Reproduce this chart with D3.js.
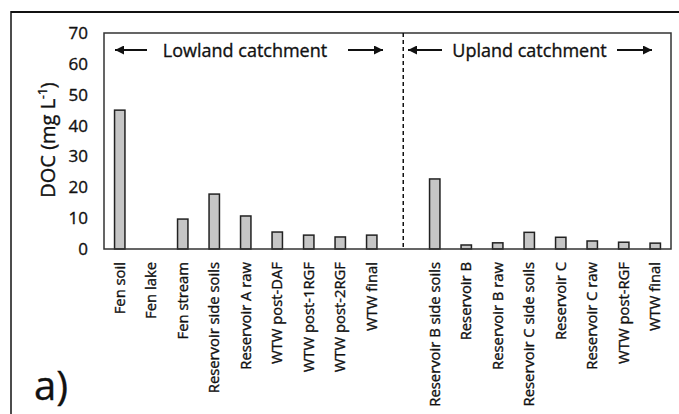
<!DOCTYPE html>
<html><head><meta charset="utf-8">
<script src="https://cdn.jsdelivr.net/npm/d3@7"></script>
<style>
html,body{margin:0;padding:0;background:#fff;}
svg{display:block;font-family:"Open Sans",sans-serif;}
text{stroke:#111;stroke-width:0.35px;}
</style></head>
<body>
<svg id="chart" width="679" height="414"></svg>
<script>
// Data
const lowlandSites = ["Fen soil","Fen lake","Fen stream","Reservoir side soils","Reservoir A raw","WTW post-DAF","WTW post-1RGF","WTW post-2RGF","WTW final"];
const lowlandDOC  = [45.0, null, 9.7, 17.8, 10.7, 5.5, 4.5, 3.9, 4.5];
const uplandSites = ["Reservoir B side soils","Reservoir B","Reservoir B raw","Reservoir C side soils","Reservoir C","Reservoir C raw","WTW post-RGF","WTW final"];
const uplandDOC   = [22.7, 1.3, 2.0, 5.4, 3.8, 2.6, 2.2, 1.9];
const yTicks = [0,10,20,30,40,50,60,70];
const regionLabels = ["Lowland catchment","Upland catchment"];
const panelLabel = "a)";

const rows = [];
lowlandSites.forEach((s,i)=>rows.push({key:"L"+i,label:s,value:lowlandDOC[i]}));
rows.push({key:"gap",label:"",value:null});
uplandSites.forEach((s,i)=>rows.push({key:"U"+i,label:s,value:uplandDOC[i]}));
const labelOf = new Map(rows.map(r=>[r.key,r.label]));

const svg = d3.select("#chart");
const m = {left:104, top:33, right:671, bottom:249};

// outer frame (partially visible)
svg.append("line").attr("x1",11).attr("x2",679).attr("y1",12).attr("y2",12).attr("stroke","#111").attr("stroke-width",2);
svg.append("line").attr("x1",11).attr("x2",11).attr("y1",11).attr("y2",414).attr("stroke","#111").attr("stroke-width",1.5);

const x = d3.scaleBand().domain(rows.map(r=>r.key)).range([m.left,m.right]).paddingInner(0.67).paddingOuter(0.335);
const y = d3.scaleLinear().domain([0,70]).range([m.bottom,m.top]);

// y axis labels
const yAx = svg.append("g").attr("transform",`translate(${m.left},0)`)
  .call(d3.axisLeft(y).tickValues(yTicks).tickSize(0).tickPadding(16));
yAx.select(".domain").remove();
yAx.selectAll("text").attr("font-size",17).attr("fill","#111").attr("font-family","'Open Sans',sans-serif");

// x axis labels
const xAx = svg.append("g").attr("transform",`translate(0,${m.bottom})`)
  .call(d3.axisBottom(x).tickSize(0).tickFormat(k=>labelOf.get(k)));
xAx.select(".domain").remove();
xAx.selectAll("text").attr("font-size",14.8).attr("fill","#111").attr("font-family","'Open Sans',sans-serif")
  .attr("text-anchor","end").attr("transform","rotate(-90)").attr("x",-13).attr("y",0).attr("dy","0.35em");

// bars
svg.append("g").selectAll("rect").data(rows.filter(r=>r.value!=null)).join("rect")
  .attr("x",d=>x(d.key)).attr("width",x.bandwidth())
  .attr("y",d=>y(d.value)).attr("height",d=>y(0)-y(d.value))
  .attr("fill","#c6c6c6").attr("stroke","#222").attr("stroke-width",1.5);

// plot box
svg.append("rect").attr("x",m.left).attr("y",m.top).attr("width",m.right-m.left).attr("height",m.bottom-m.top)
  .attr("fill","none").attr("stroke","#333").attr("stroke-width",1.5);

// dashed separator
const gx = x("gap")+x.bandwidth()/2;
svg.append("line").attr("x1",gx).attr("x2",gx).attr("y1",m.top).attr("y2",m.bottom)
  .attr("stroke","#111").attr("stroke-width",1.5).attr("stroke-dasharray","4,3");

// arrows
const defs = svg.append("defs");
defs.append("marker").attr("id","ah").attr("viewBox","0 0 10 10").attr("refX",10).attr("refY",5)
  .attr("markerWidth",12).attr("markerHeight",9).attr("markerUnits","userSpaceOnUse").attr("orient","auto")
  .append("path").attr("d","M0,0L10,5L0,10z").attr("fill","#111");
const ay = 50;
function arrow(x1,x2){svg.append("line").attr("x1",x1).attr("x2",x2).attr("y1",ay).attr("y2",ay)
  .attr("stroke","#111").attr("stroke-width",2).attr("marker-end","url(#ah)");}
arrow(147,115); arrow(348,383); arrow(442,408); arrow(617,652);
svg.append("text").attr("x",245).attr("y",57).attr("text-anchor","middle").attr("font-size",18).attr("fill","#111").text(regionLabels[0]);
svg.append("text").attr("x",529.5).attr("y",57).attr("text-anchor","middle").attr("font-size",18).attr("fill","#111").text(regionLabels[1]);

// y title
const t = svg.append("text").attr("transform","translate(55,140) rotate(-90)").attr("text-anchor","middle")
  .attr("font-size",20).attr("fill","#111");
t.append("tspan").text("DOC (mg L");
t.append("tspan").attr("font-size",12).attr("dy",-8).text("-1");
t.append("tspan").attr("dy",8).text(")");

// panel label
svg.append("text").attr("x",34).attr("y",400).attr("font-size",40).attr("fill","#111").text(panelLabel);
</script>
</body></html>
